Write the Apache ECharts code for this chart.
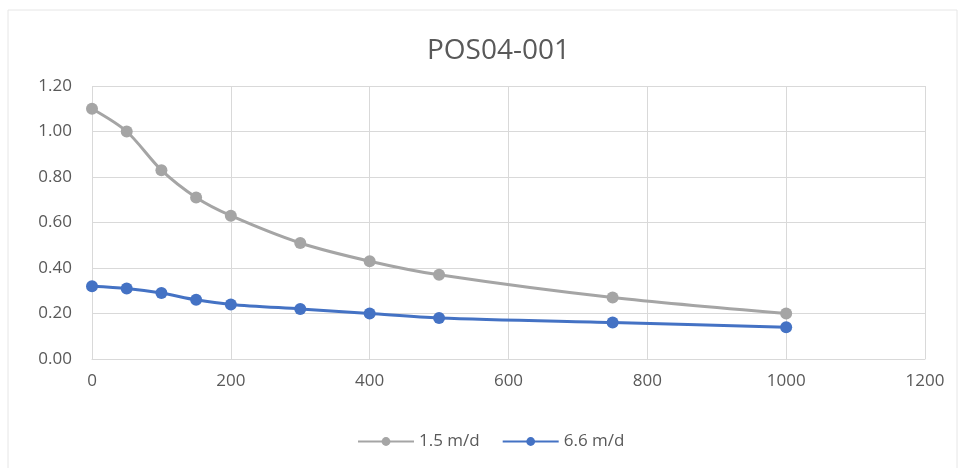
<!DOCTYPE html>
<html>
<head>
<meta charset="utf-8">
<script src="https://cdn.jsdelivr.net/npm/echarts@6/dist/echarts.min.js"></script>
<style>
html,body{margin:0;padding:0;background:#fff;}
#chart{width:965px;height:468px;}
</style>
</head>
<body>
<div id="chart"></div>
<script>
// Distance values (x) and the two flow-rate series
const distance = [0, 50, 100, 150, 200, 300, 400, 500, 750, 1000];
const flow15 = [1.10, 1.00, 0.83, 0.71, 0.63, 0.51, 0.43, 0.37, 0.27, 0.20];
const flow66 = [0.32, 0.31, 0.29, 0.26, 0.24, 0.22, 0.20, 0.18, 0.16, 0.14];
const seriesNames = ['1.5 m/d', '6.6 m/d'];

const pair = (xs, ys) => xs.map((x, i) => [x, ys[i]]);

const chart = echarts.init(document.getElementById('chart'));
const textColor = '#595959';
const gridColor = '#d9d9d9';
const font = 'Open Sans';

chart.setOption({
  backgroundColor: '#fff',
  animation: false,
  title: {
    text: 'POS04-001',
    left: 422,
    top: 32,
    textStyle: { fontFamily: font, fontWeight: 'normal', fontSize: 28, color: textColor }
  },
  graphic: [{
    type: 'rect',
    shape: { x: 8, y: 10, width: 949, height: 470 },
    style: { fill: 'none', stroke: '#e6e6e6', lineWidth: 1 },
    silent: true
  }],
  legend: {
    top: 428,
    left: 352,
    itemWidth: 56,
    itemHeight: 11,
    itemGap: 22,
    textStyle: { fontFamily: font, fontSize: 17, color: textColor },
    data: seriesNames
  },
  grid: { left: 92, right: 40, top: 86, bottom: 109 },
  xAxis: {
    type: 'value',
    min: 0, max: 1200, interval: 200,
    axisLine: { show: true, lineStyle: { color: gridColor } },
    axisTick: { show: false },
    axisLabel: { fontFamily: font, fontSize: 17, color: textColor, margin: 14,
      formatter: v => String(v) },
    splitLine: { show: true, lineStyle: { color: gridColor } }
  },
  yAxis: {
    type: 'value',
    min: 0, max: 1.2, interval: 0.2,
    axisLine: { show: false },
    axisTick: { show: false },
    axisLabel: { fontFamily: font, fontSize: 17, color: textColor, margin: 20,
      formatter: v => v.toFixed(2) },
    splitLine: { show: true, lineStyle: { color: gridColor } }
  },
  series: [
    {
      name: seriesNames[0],
      type: 'line',
      data: pair(distance, flow15),
      smooth: 0.3,
      symbol: 'circle',
      symbolSize: 12,
      itemStyle: { color: '#a5a5a5' },
      lineStyle: { color: '#a5a5a5', width: 3 }
    },
    {
      name: seriesNames[1],
      type: 'line',
      data: pair(distance, flow66),
      smooth: 0.3,
      symbol: 'circle',
      symbolSize: 12,
      itemStyle: { color: '#4472c4' },
      lineStyle: { color: '#4472c4', width: 3 }
    }
  ]
});
</script>
</body>
</html>
